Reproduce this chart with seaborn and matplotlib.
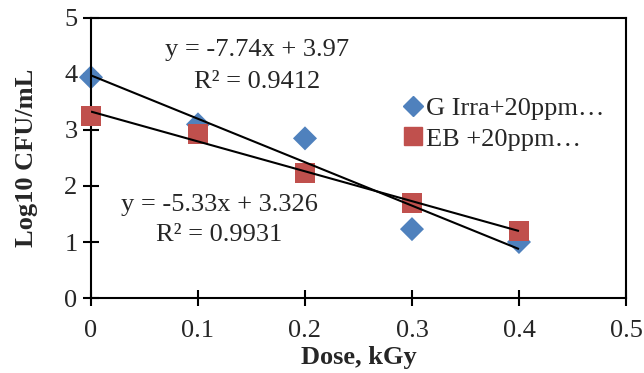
import numpy as np
import pandas as pd
import matplotlib
matplotlib.use("Agg")
import matplotlib.pyplot as plt
from matplotlib.lines import Line2D
import seaborn as sns

# data
dose = [0, 0.1, 0.2, 0.3, 0.4]
g_irra = [3.94, 3.10, 2.85, 1.23, 1.00]
eb = [3.25, 2.93, 2.23, 1.70, 1.20]
series_names = ["G Irra+20ppm…", "EB +20ppm…"]
eq_lines = [["y = -7.74x + 3.97", "R² = 0.9412"],
            ["y = -5.33x + 3.326", "R² = 0.9931"]]

df = pd.DataFrame({
    "dose": dose * 2,
    "log": g_irra + eb,
    "series": [series_names[0]] * 5 + [series_names[1]] * 5,
})

sns.set_style("ticks")
plt.rcParams["font.family"] = ["Liberation Serif", "DejaVu Serif"]

fig = plt.figure(figsize=(6.44, 3.73), dpi=100)
ax = fig.add_axes([0.1413, 0.201, 0.8307, 0.751])

colors = {series_names[0]: "#4F81BD", series_names[1]: "#C0504D"}
markers = {series_names[0]: "D", series_names[1]: "s"}
sizes = {series_names[0]: 150, series_names[1]: 200}

for name in series_names:
    sub = df[df["series"] == name]
    sns.scatterplot(data=sub, x="dose", y="log", color=colors[name],
                    marker=markers[name], s=sizes[name], edgecolor="none",
                    ax=ax, zorder=2 if name == series_names[0] else 3,
                    legend=False, clip_on=False)

# linear trendlines
for vals in [g_irra, eb]:
    m, b = np.polyfit(dose, vals, 1)
    xs = np.array([dose[0], dose[-1]])
    ax.plot(xs, m * xs + b, color="black", lw=1.5, zorder=4, solid_capstyle="butt")

fs = 19
ax.text(0.1556, 4.43, eq_lines[0][0], ha="center", va="center", fontsize=fs)
ax.text(0.1556, 3.86, eq_lines[0][1], ha="center", va="center", fontsize=fs)
ax.text(0.1196, 1.66, eq_lines[1][0], ha="center", va="center", fontsize=fs)
ax.text(0.1196, 1.12, eq_lines[1][1], ha="center", va="center", fontsize=fs)

ax.set_xlim(0, 0.5)
ax.set_ylim(0, 5)
ax.set_xticks([0, 0.1, 0.2, 0.3, 0.4, 0.5])
ax.set_xticklabels(["0", "0.1", "0.2", "0.3", "0.4", "0.5"])
ax.set_yticks(range(6))
ax.tick_params(direction="inout", length=11.5, width=1.5, labelsize=fs,
               color="black")
ax.tick_params(axis="x", pad=10)
ax.tick_params(axis="y", pad=4)
for sp in ax.spines.values():
    sp.set_visible(True)
    sp.set_color("black")
    sp.set_linewidth(1.5)

ax.set_xlabel("Dose, kGy", fontsize=fs, fontweight="bold", labelpad=3)
ax.set_ylabel("Log10 CFU/mL", fontsize=fs, fontweight="bold", labelpad=19)

handles = [Line2D([], [], ls="", marker="D", color=colors[series_names[0]], markersize=10),
           Line2D([], [], ls="", marker="s", color=colors[series_names[1]], markersize=12.5)]
ax.legend(handles, series_names, loc="center left", bbox_to_anchor=(0.585, 0.623),
          frameon=False, fontsize=fs, handlelength=0.7, handletextpad=0.15,
          labelspacing=0.28, borderaxespad=0, borderpad=0)

fig.savefig("out.png", dpi=100)
